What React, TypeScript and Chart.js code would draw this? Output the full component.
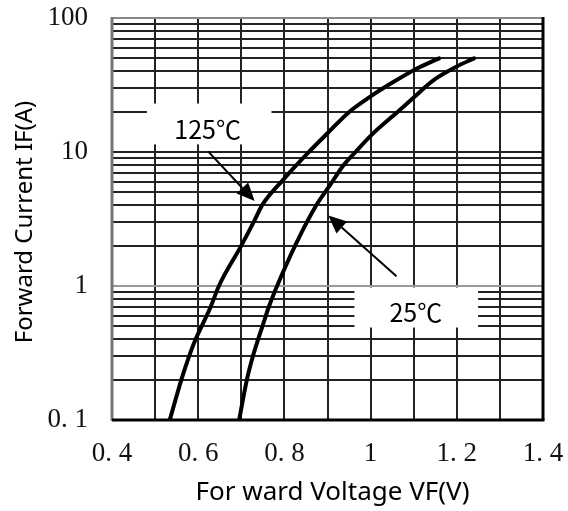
import React, { useEffect, useRef } from "react";
import { Chart, registerables } from "chart.js";

Chart.register(...registerables);

// ---- data ----
const seriesNames = ["125℃", "25℃"];

const vf125 = [0.534, 0.561, 0.579, 0.594, 0.608, 0.629, 0.648, 0.7, 0.731, 0.748, 0.797, 0.858, 0.9, 0.951, 1.0, 1.044, 1.1, 1.159];
const if125 = [0.1, 0.2, 0.3, 0.4, 0.5, 0.7, 1.0, 2.0, 3.1, 4.0, 6.2, 10.1, 13.8, 20, 26, 32, 40.8, 50];

const vf25 = [0.695, 0.713, 0.727, 0.739, 0.749, 0.764, 0.783, 0.828, 0.874, 0.905, 0.935, 0.965, 1.0, 1.067, 1.1, 1.144, 1.2, 1.24];
const if25 = [0.1, 0.2, 0.3, 0.4, 0.5, 0.7, 1.0, 2.1, 4.0, 5.6, 7.8, 10, 13.2, 20.5, 25.5, 34, 43.5, 50];

// x grid ticks and their labels
const xTickValues = [0.4, 0.5, 0.6, 0.7, 0.8, 0.9, 1.0, 1.1, 1.2, 1.3, 1.4];
const xTickLabels = ["0. 4", "", "0. 6", "", "0. 8", "", "1", "", "1. 2", "", "1. 4"];

// y grid ticks (log) and decade labels
const yTickValues = [
  0.1, 0.2, 0.3, 0.4, 0.5, 0.6, 0.7, 0.8, 0.9,
  1, 2, 3, 4, 5, 6, 7, 8, 9,
  10, 20, 30, 40, 50, 60, 70, 80, 90,
  100,
];
const yDecadeValues = [0.1, 1, 10, 100];
const yDecadeLabels = ["0. 1", "1", "10", "100"];

const xTitle = "For ward Voltage VF(V)";
const yTitle = "Forward Current IF(A)";

// annotations in data units: [V, I]
const labelCenters = [[0.622, 14.7], [1.105, 0.63]];
const labelBoxLow = [[0.481, 11.4], [0.9625, 0.49]];
const labelBoxHigh = [[0.770, 23.0], [1.2495, 0.975]];
const arrowTails = [[0.623, 10.1], [1.06, 1.18]];
const arrowTips = [[0.731, 4.3], [0.902, 3.36]];

function drawArrow(ctx: CanvasRenderingContext2D, x1: number, y1: number, x2: number, y2: number) {
  const ang = Math.atan2(y2 - y1, x2 - x1);
  const headLen = 18;
  const headHalf = 8;
  const bx = x2 - headLen * Math.cos(ang);
  const by = y2 - headLen * Math.sin(ang);
  ctx.save();
  ctx.strokeStyle = "#000";
  ctx.fillStyle = "#000";
  ctx.lineWidth = 2;
  ctx.beginPath();
  ctx.moveTo(x1, y1);
  ctx.lineTo(bx, by);
  ctx.stroke();
  ctx.beginPath();
  ctx.moveTo(x2, y2);
  ctx.lineTo(bx + headHalf * Math.sin(ang), by - headHalf * Math.cos(ang));
  ctx.lineTo(bx - headHalf * Math.sin(ang), by + headHalf * Math.cos(ang));
  ctx.closePath();
  ctx.fill();
  ctx.restore();
}

const decorPlugin = {
  id: "decor",
  beforeDatasetsDraw(chart: any) {
    const { ctx, scales } = chart;
    const xs = scales.x;
    const ys = scales.y;
    ctx.save();
    ctx.fillStyle = "#fff";
    for (let i = 0; i < labelBoxLow.length; i++) {
      const x1 = xs.getPixelForValue(labelBoxLow[i][0]);
      const y1 = ys.getPixelForValue(labelBoxLow[i][1]);
      const x2 = xs.getPixelForValue(labelBoxHigh[i][0]);
      const y2 = ys.getPixelForValue(labelBoxHigh[i][1]);
      ctx.fillRect(x1, y2, x2 - x1, y1 - y2);
    }
    ctx.restore();
  },
  afterDatasetsDraw(chart: any) {
    const { ctx, scales, chartArea } = chart;
    const xs = scales.x;
    const ys = scales.y;
    const { left, right, top, bottom } = chartArea;
    ctx.save();
    // borders
    ctx.lineCap = "butt";
    ctx.strokeStyle = "#888";
    ctx.lineWidth = 2;
    ctx.beginPath();
    ctx.moveTo(left, top);
    ctx.lineTo(right, top);
    ctx.stroke();
    ctx.strokeStyle = "#777";
    ctx.lineWidth = 3;
    ctx.beginPath();
    ctx.moveTo(left, top - 1);
    ctx.lineTo(left, bottom + 1);
    ctx.stroke();
    ctx.strokeStyle = "#000";
    ctx.beginPath();
    ctx.moveTo(left, bottom);
    ctx.lineTo(right + 1.5, bottom);
    ctx.stroke();
    ctx.beginPath();
    ctx.moveTo(right, top - 1);
    ctx.lineTo(right, bottom);
    ctx.stroke();

    // labels
    ctx.fillStyle = "#000";
    ctx.font = '25px "Noto Sans CJK SC", "Noto Sans", sans-serif';
    ctx.textAlign = "center";
    ctx.textBaseline = "middle";
    for (let i = 0; i < labelCenters.length; i++) {
      ctx.fillText(
        seriesNames[i],
        xs.getPixelForValue(labelCenters[i][0]),
        ys.getPixelForValue(labelCenters[i][1])
      );
    }
    // arrows
    for (let i = 0; i < arrowTails.length; i++) {
      drawArrow(
        ctx,
        xs.getPixelForValue(arrowTails[i][0]),
        ys.getPixelForValue(arrowTails[i][1]),
        xs.getPixelForValue(arrowTips[i][0]),
        ys.getPixelForValue(arrowTips[i][1])
      );
    }

    // axis titles
    ctx.textBaseline = "alphabetic";
    ctx.textAlign = "center";
    ctx.font = '26px "Noto Sans", sans-serif';
    ctx.fillText(xTitle, (left + right) / 2 + 5, 500);
    ctx.font = '24px "Noto Sans", sans-serif';
    ctx.translate(32, (top + bottom) / 2 + 3);
    ctx.rotate(-Math.PI / 2);
    ctx.fillText(yTitle, 0, 0);
    ctx.restore();
  },
};

export default function App() {
  const canvasRef = useRef<HTMLCanvasElement | null>(null);

  useEffect(() => {
    if (!canvasRef.current) return;
    const tickFont = { family: '"Liberation Serif", serif', size: 27 };
    const chart = new Chart(canvasRef.current, {
      type: "scatter",
      data: {
        datasets: [
          {
            label: seriesNames[0],
            data: vf125.map((v, i) => ({ x: v, y: if125[i] })),
            showLine: true,
            borderColor: "#000",
            borderWidth: 4,
            borderCapStyle: "round",
            borderJoinStyle: "round",
            pointRadius: 0,
            cubicInterpolationMode: "monotone",
          },
          {
            label: seriesNames[1],
            data: vf25.map((v, i) => ({ x: v, y: if25[i] })),
            showLine: true,
            borderColor: "#000",
            borderWidth: 4,
            borderCapStyle: "round",
            borderJoinStyle: "round",
            pointRadius: 0,
            cubicInterpolationMode: "monotone",
          },
        ],
      },
      options: {
        animation: false,
        responsive: false,
        maintainAspectRatio: false,
        layout: { padding: { top: 18, right: 25, left: 0, bottom: 0 } },
        plugins: {
          legend: { display: false },
          tooltip: { enabled: false },
        },
        scales: {
          x: {
            type: "linear",
            min: 0.4,
            max: 1.4,
            afterBuildTicks: (s: any) => {
              s.ticks = xTickValues.map((v) => ({ value: v }));
            },
            afterFit: (s: any) => {
              s.height = 91;
              s.paddingLeft = 0;
              s.paddingRight = 0;
            },
            ticks: {
              autoSkip: false,
              maxRotation: 0,
              minRotation: 0,
              padding: 18,
              color: "#111",
              font: tickFont,
              callback: (_v: any, i: number) => xTickLabels[i],
            },
            grid: {
              color: "#222",
              lineWidth: 2,
              drawTicks: false,
            },
            border: { display: false },
          },
          y: {
            type: "logarithmic",
            min: 0.1,
            max: 100,
            afterBuildTicks: (s: any) => {
              s.ticks = yTickValues.map((v) => ({ value: v }));
            },
            afterFit: (s: any) => {
              s.width = 112;
              s.paddingTop = 0;
              s.paddingBottom = 0;
            },
            ticks: {
              autoSkip: false,
              padding: 24,
              color: "#111",
              font: tickFont,
              callback: (v: any) => {
                const k = yDecadeValues.findIndex((d) => Math.abs(d - v) < 1e-9);
                return k >= 0 ? yDecadeLabels[k] : "";
              },
            },
            grid: {
              color: (c: any) => (c.tick && Math.abs(c.tick.value - 1) < 1e-9 ? "#999" : "#222"),
              lineWidth: 2,
              drawTicks: false,
            },
            border: { display: false },
          },
        },
      },
      plugins: [decorPlugin],
    } as any);
    return () => chart.destroy();
  }, []);

  return (
    <div style={{ position: "fixed", left: 0, top: 0, width: 568, height: 511, background: "#fff" }}>
      <canvas ref={canvasRef} width={568} height={511} style={{ display: "block", width: 568, height: 511 }} />
    </div>
  );
}
